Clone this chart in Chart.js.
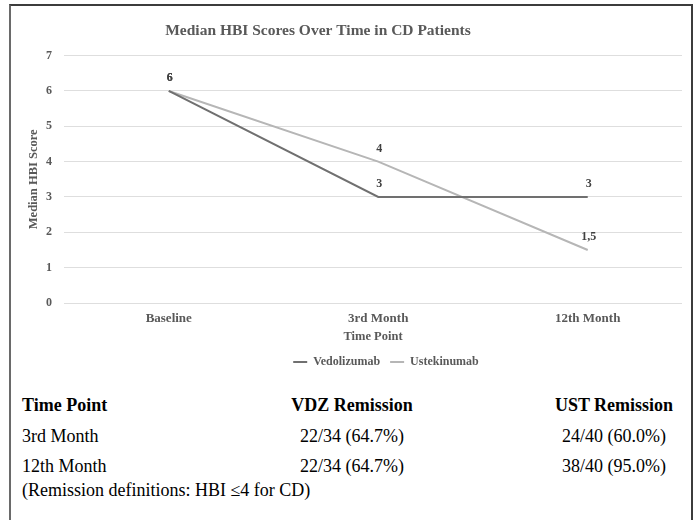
<!DOCTYPE html>
<html>
<head>
<meta charset="utf-8">
<script src="https://cdn.jsdelivr.net/npm/chart.js@4.4.1/dist/chart.umd.min.js"></script>
<style>
  html, body { margin: 0; padding: 0; background: #fff; }
  body { width: 696px; height: 520px; position: relative; overflow: hidden;
         font-family: "Liberation Serif", "Times New Roman", serif; }
  #frame { position: absolute; left: 9px; top: 4px; width: 680px; height: 530px;
           border: 2px solid #3c3c3c; border-left-color: #6a6a6a; }
  #chartBox { position: absolute; left: 0; top: 0; width: 696px; height: 378px; }
  .cell { position: absolute; font-size: 18px; color: #000; white-space: nowrap;
          line-height: 20px; transform: translateY(-50%); }
  .hdr { font-weight: bold; }
  .c1 { left: 22px; }
  .c2 { left: 352px; transform: translate(-50%, -50%); }
  .c3 { left: 614px; transform: translate(-50%, -50%); }
</style>
</head>
<body>
<div id="frame"></div>
<div id="chartBox"><canvas id="c" width="696" height="378"></canvas></div>
<div id="table"></div>
<script>
// Median HBI score at each time point
const categories = ["Baseline", "3rd Month", "12th Month"];
const vedolizumab = [6, 3, 3];
const ustekinumab = [6, 4, 1.5];
const yTicks = [0, 1, 2, 3, 4, 5, 6, 7];

// Remission summary table
const tableHeader = ["Time Point", "VDZ Remission", "UST Remission"];
const tableRows = [
  ["3rd Month", "22/34 (64.7%)", "24/40 (60.0%)"],
  ["12th Month", "22/34 (64.7%)", "38/40 (95.0%)"]
];
const tableNote = "(Remission definitions: HBI \u22644 for CD)";

const serif = "'Liberation Serif', 'Times New Roman', serif";
const axisGray = "#595959";

// value labels above each point, decimal comma
const valueLabels = {
  id: "valueLabels",
  afterDatasetsDraw(chart) {
    const ctx = chart.ctx;
    ctx.save();
    ctx.font = "bold 12px " + serif;
    ctx.fillStyle = "#404040";
    ctx.textAlign = "center";
    ctx.textBaseline = "middle";
    chart.data.datasets.forEach((ds, di) => {
      const meta = chart.getDatasetMeta(di);
      meta.data.forEach((el, i) => {
        const v = ds.data[i].y;
        ctx.fillText(String(v).replace(".", ","), el.x + 1, el.y - 13);
      });
    });
    ctx.restore();
  }
};

// nudge the title left and the legend right of their default centres
const blockShift = {
  id: "blockShift",
  afterLayout(chart) {
    const lg = chart.legend;
    if (lg) { lg.left += 32; lg.right += 32; }
    const tb = chart.titleBlock;
    if (tb) { tb.left -= 36; tb.right -= 36; }
  }
};

new Chart(document.getElementById("c"), {
  type: "line",
  data: {
    datasets: [
      {
        label: "Vedolizumab",
        data: vedolizumab.map((v, i) => ({ x: i, y: v })),
        borderColor: "#707070",
        backgroundColor: "#707070",
        borderWidth: 2,
        pointRadius: 0,
        tension: 0
      },
      {
        label: "Ustekinumab",
        data: ustekinumab.map((v, i) => ({ x: i, y: v })),
        borderColor: "#b6b6b6",
        backgroundColor: "#b6b6b6",
        borderWidth: 2,
        pointRadius: 0,
        tension: 0
      }
    ]
  },
  options: {
    responsive: false,
    animation: false,
    layout: { padding: { left: 26, right: 14, top: 0, bottom: 0 } },
    plugins: {
      title: {
        display: true,
        text: "Median HBI Scores Over Time in CD Patients",
        color: axisGray,
        font: { family: serif, size: 15.5, weight: "bold" },
        padding: { top: 22, bottom: 15 }
      },
      legend: {
        position: "bottom",
        labels: {
          color: axisGray,
          font: { family: serif, size: 12, weight: "bold" },
          usePointStyle: true,
          pointStyle: "line",
          pointStyleWidth: 14,
          boxHeight: 2,
          padding: 10
        }
      },
      tooltip: { enabled: false }
    },
    scales: {
      x: {
        type: "linear",
        min: -0.5,
        max: 2.45,
        afterBuildTicks(scale) {
          scale.ticks = categories.map((_, i) => ({ value: i }));
        },
        afterFit(scale) { scale.height = 43; },
        grid: { display: false, drawTicks: false },
        border: { display: false },
        ticks: {
          color: axisGray,
          font: { family: serif, size: 13, weight: "bold" },
          padding: 8,
          maxRotation: 0,
          callback: (v) => categories[v]
        },
        title: {
          display: true,
          text: "Time Point",
          color: axisGray,
          font: { family: serif, size: 12.5, weight: "bold" },
          padding: { top: 2, bottom: 2 }
        }
      },
      y: {
        min: yTicks[0],
        max: yTicks[yTicks.length - 1],
        afterBuildTicks(scale) {
          scale.ticks = yTicks.map(v => ({ value: v }));
        },
        afterFit(scale) { scale.width = 38; },
        grid: { color: "#dedede", lineWidth: 1, drawTicks: false },
        border: { display: false },
        ticks: {
          color: axisGray,
          font: { family: serif, size: 12, weight: "bold" },
          padding: 12
        },
        title: {
          display: true,
          text: "Median HBI Score",
          color: axisGray,
          font: { family: serif, size: 12.5, weight: "bold" },
          padding: { top: 0, bottom: 4 }
        }
      }
    }
  },
  plugins: [valueLabels, blockShift]
});

// remission table below the chart
const table = document.getElementById("table");
function addCell(text, cls, y) {
  const d = document.createElement("div");
  d.className = "cell " + cls;
  d.style.top = y + "px";
  d.textContent = text;
  table.appendChild(d);
}
const rowY = [405, 436, 466];
["c1", "c2", "c3"].forEach((c, i) => addCell(tableHeader[i], "hdr " + c, rowY[0]));
tableRows.forEach((r, ri) => {
  ["c1", "c2", "c3"].forEach((c, i) => addCell(r[i], c, rowY[ri + 1]));
});
addCell(tableNote, "c1", 490);
</script>
</body>
</html>
